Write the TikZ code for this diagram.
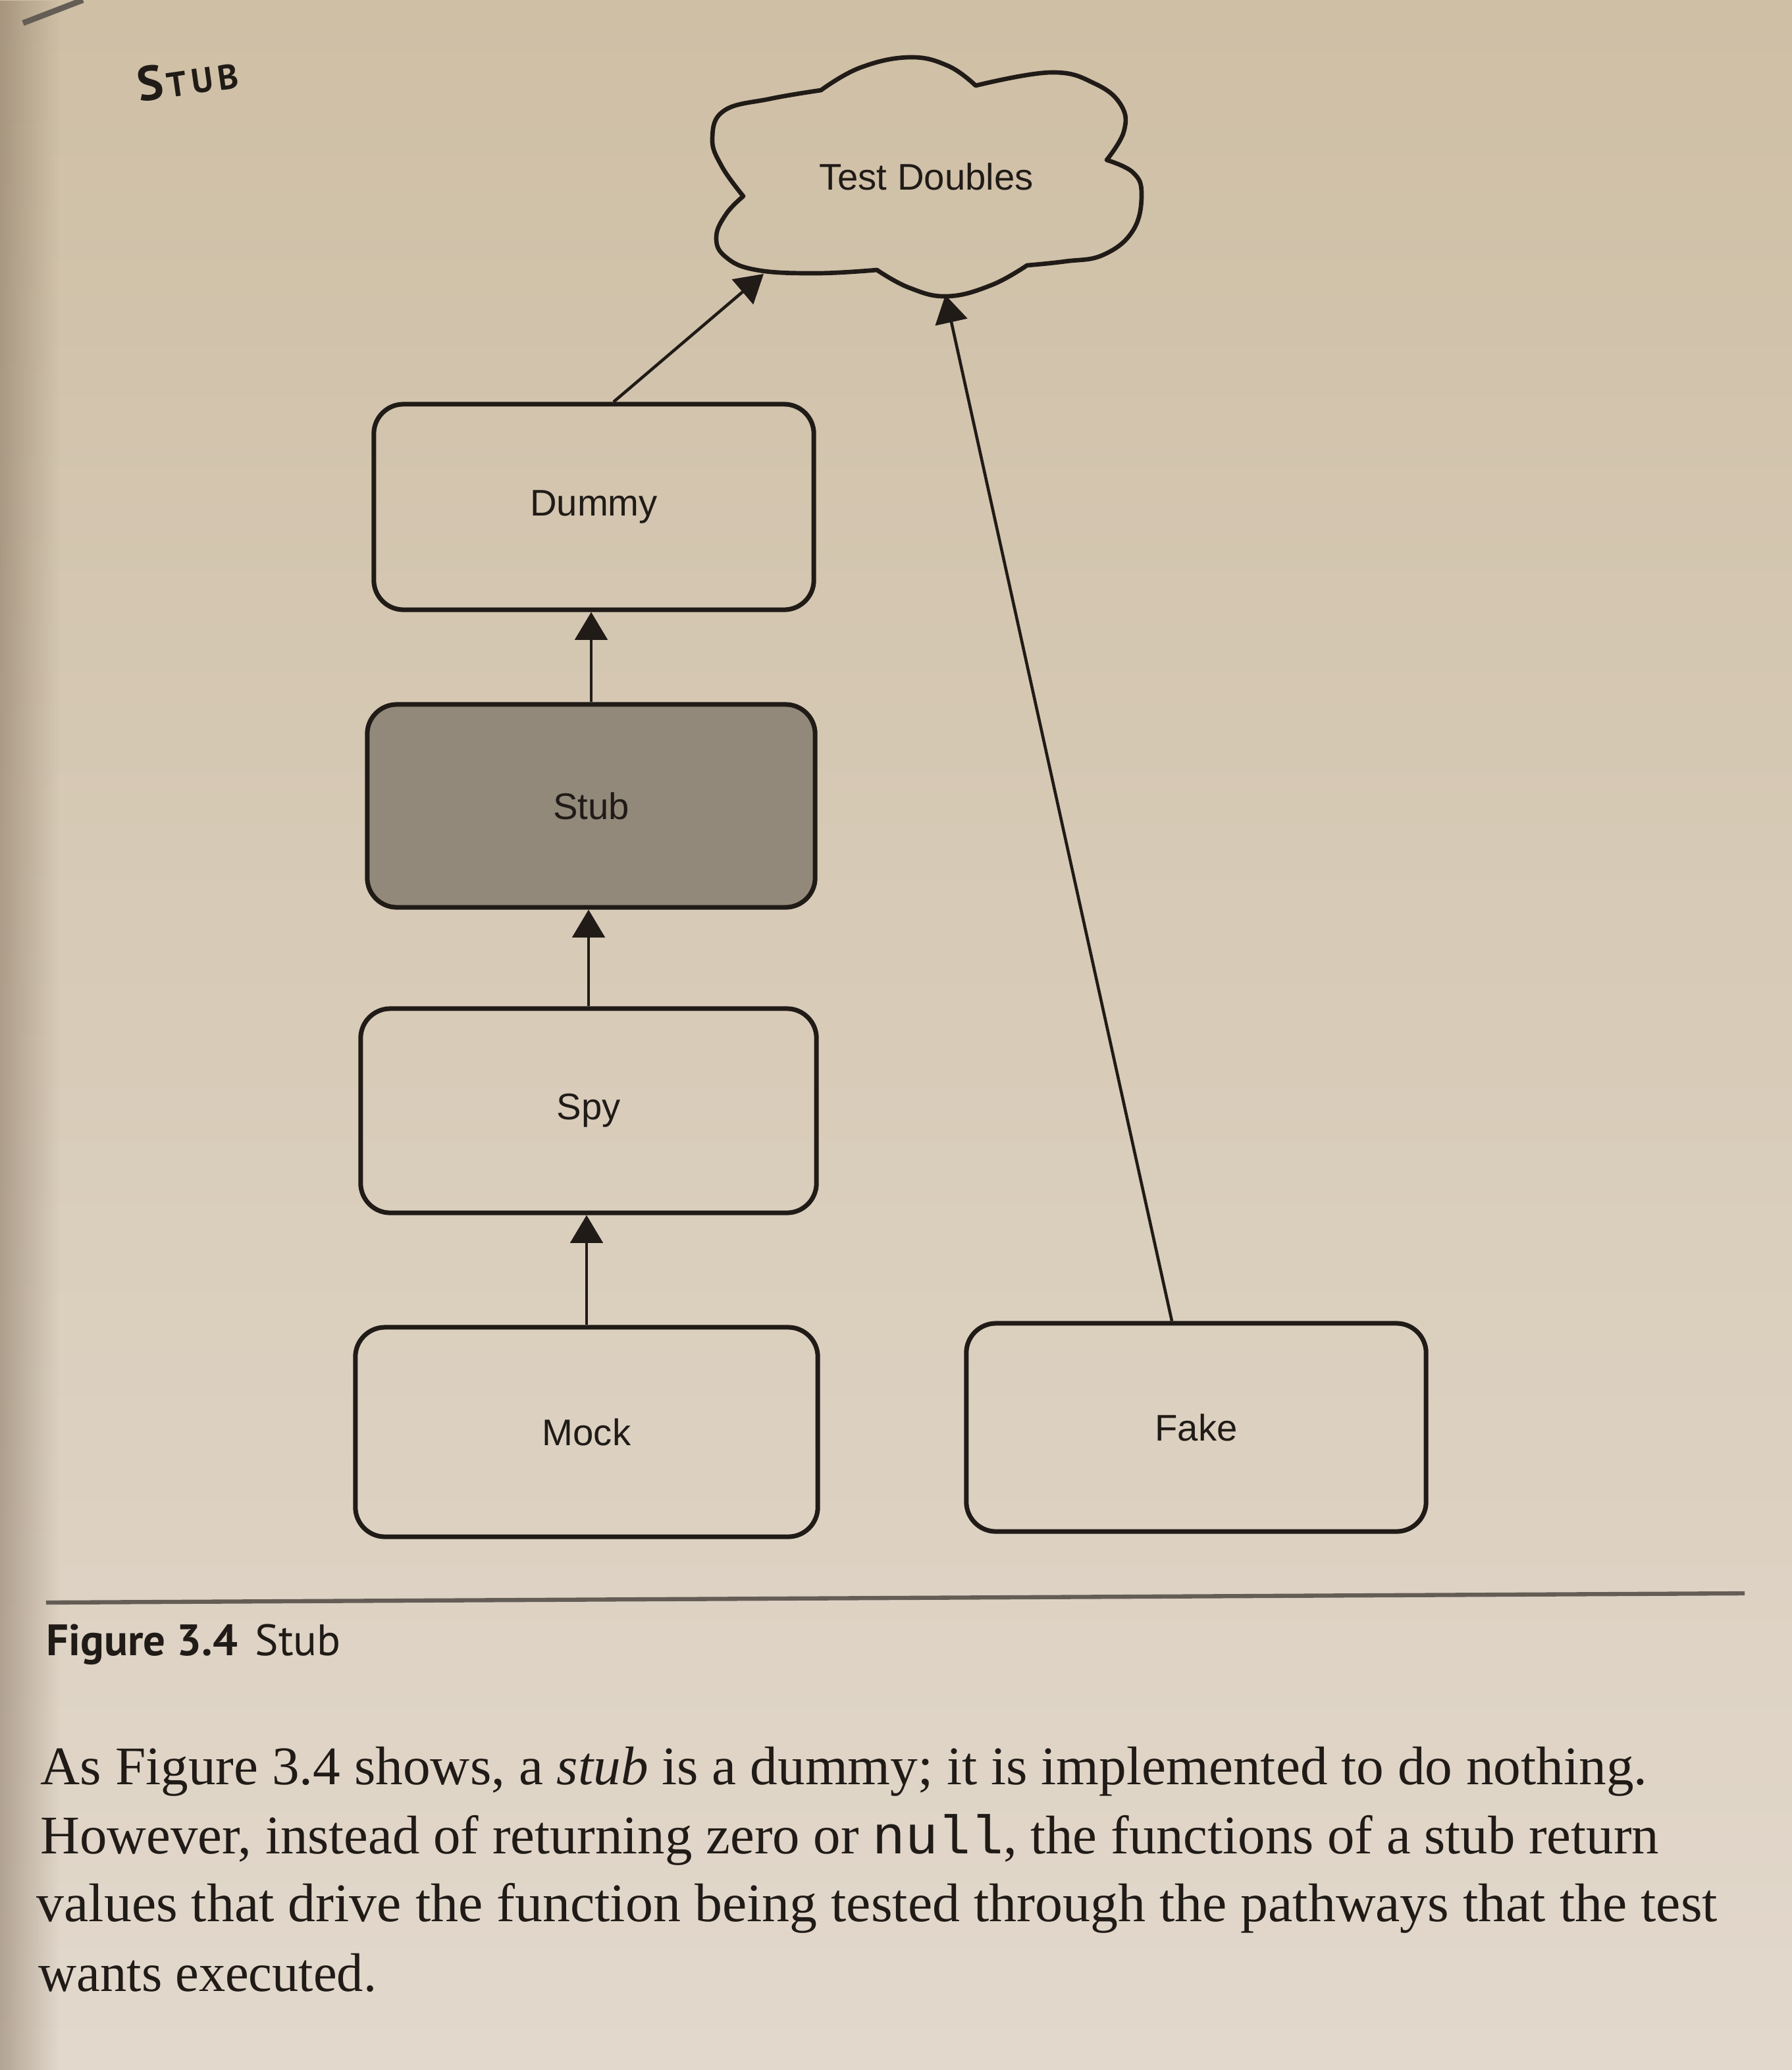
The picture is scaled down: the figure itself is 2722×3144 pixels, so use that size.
\documentclass[tikz,border=0pt]{standalone}
\usepackage{fontspec}
\usepackage{graphicx}
\setmainfont{Liberation Serif}
\setsansfont{Liberation Sans}
\setmonofont{Liberation Mono}
\newfontfamily\capfont{PT Sans}
\usetikzlibrary{arrows.meta,fadings,calc}

\definecolor{pagetop}{RGB}{206,191,165}
\definecolor{pagebot}{RGB}{226,216,204}
\definecolor{ink}{RGB}{32,27,23}
\definecolor{stubgray}{RGB}{146,137,122}
\definecolor{rulegray}{RGB}{100,93,85}
\definecolor{shadow}{RGB}{120,100,80}

\begin{document}
\begin{tikzpicture}[x=0.01cm,y=-0.01cm,
  box/.style={draw=ink, line width=2pt, rounded corners=0.45cm, inner sep=0pt,
    font=\sffamily\fontsize{16}{16}\selectfont, text=ink},
  arr/.style={draw=ink, line width=1.3pt, -{Triangle[length=12pt,width=14pt]}},
  para/.style={anchor=base west, inner sep=0pt, text=ink, font=\fontsize{23.5}{23.5}\selectfont},
]
\useasboundingbox (0,0) rectangle (2722,3144);
\shade[top color=pagetop, bottom color=pagebot] (0,0) rectangle (2722,3144);
\fill[shadow, path fading=east, opacity=0.45] (0,0) rectangle (90,3144);

% page edge artifact
\draw[rulegray, line width=2.5pt] (35,35) -- (126,0);

% heading
\node[rotate=8, inner sep=0pt, text=ink, font=\capfont\bfseries] (hd) at (285,118)
  {\fontsize{21}{21}\selectfont S\fontsize{15}{15}\selectfont\kern1.5pt T\kern2pt U\kern2pt B};

% cloud
\draw[ink, line width=1.9pt, line join=round]
  plot[smooth, tension=0.7] coordinates {(1129,298) (1096,252) (1082,210) (1100,168) (1170,150) (1247,137)}
  -- plot[smooth, tension=0.7] coordinates {(1247,137) (1306,103) (1381,87) (1440,100) (1482,130)}
  -- plot[smooth, tension=0.7] coordinates {(1482,130) (1596,110) (1663,127) (1703,160) (1707,200) (1681,243)}
  -- plot[smooth, tension=0.7] coordinates {(1681,243) (1721,262) (1734,295) (1721,350) (1676,387) (1618,397) (1560,403)}
  -- plot[smooth, tension=0.7] coordinates {(1560,403) (1506,433) (1439,450) (1381,437) (1332,410)}
  -- plot[smooth, tension=0.7] coordinates {(1332,410) (1240,415) (1149,410) (1102,390) (1088,360) (1103,325) (1129,298)}
  -- cycle;
\node[inner sep=0pt, text=ink, font=\sffamily\fontsize{16}{16}\selectfont] (td) at (1407,268) {Test Doubles};
\coordinate (tdA) at (1160,416);
\coordinate (tdB) at (1436,448);

% boxes
\node[box, minimum width=6.68cm, minimum height=3.12cm] (dummy) at (902,770) {Dummy};
\node[box, fill=stubgray, minimum width=6.80cm, minimum height=3.08cm] (stub) at (898,1224) {Stub};
\node[box, minimum width=6.92cm, minimum height=3.10cm] (spy) at (894,1687) {Spy};
\node[box, minimum width=7.02cm, minimum height=3.18cm] (mock) at (891,2175) {Mock};
\node[box, minimum width=6.98cm, minimum height=3.16cm] (fake) at (1817,2168) {Fake};

% arrows
\draw[arr] ($(dummy.north)+(30,0)$) -- (tdA);
\draw[arr] (stub.north) -- (stub.north |- dummy.south);
\draw[arr] (spy.north) -- (spy.north |- stub.south);
\draw[arr] (mock.north) -- (mock.north |- spy.south);
\draw[arr] ($(fake.north)+(-37,0)$) -- (tdB);

% rule and caption
\draw[rulegray, line width=1.8pt] (70,2434) -- (2650,2420);
\node[anchor=base west, inner sep=0pt, text=ink, font=\capfont\fontsize{19}{19}\selectfont] (cap) at (70,2514)
  {\textbf{Figure 3.4}\hspace{0.4em}Stub};

% paragraph
\node[para] (p1) at (61,2710) {\resizebox{694pt}{\height}{As Figure 3.4 shows, a \textit{stub} is a dummy; it is implemented to do nothing.}};
\node[para] (p2) at (61,2815) {\resizebox{699pt}{\height}{However, instead of returning zero or \texttt{null}, the functions of a stub return}};
\node[para] (p3) at (55,2918) {\resizebox{726pt}{\height}{values that drive the function being tested through the pathways that the test}};
\node[para] (p4) at (58,3024) {\resizebox{146pt}{\height}{wants executed.}};
\end{tikzpicture}
\end{document}
